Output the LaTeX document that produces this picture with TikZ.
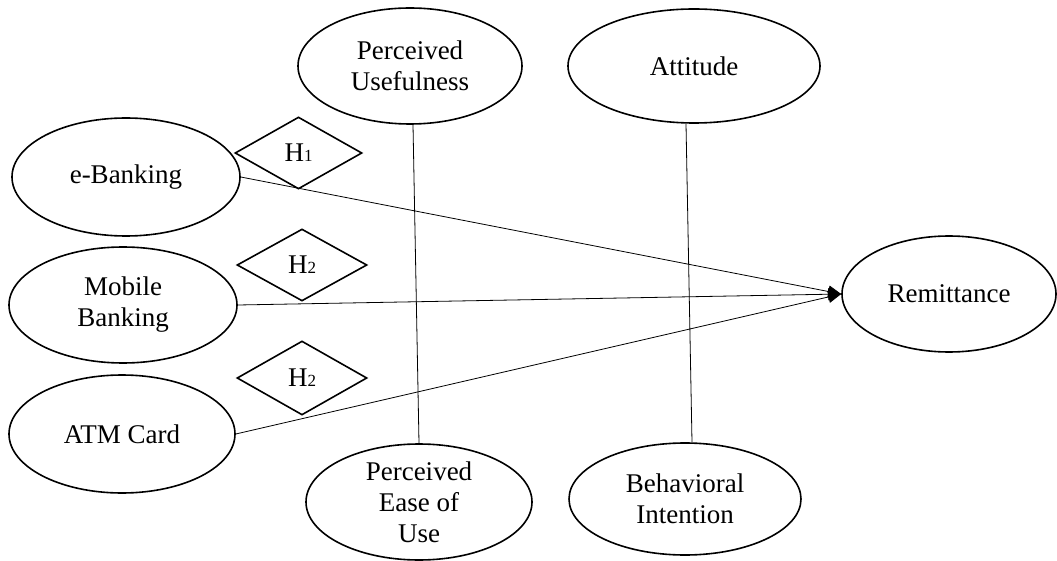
\documentclass[tikz,border=0pt]{standalone}
\usepackage{fontspec}
\setmainfont{Liberation Serif}
\usetikzlibrary{shapes.geometric,arrows.meta}
\begin{document}
\begin{tikzpicture}[x=1pt,y=-1pt,
  txt/.style={align=center,font=\fontsize{27}{31}\selectfont,inner sep=0pt},
  oval/.style={ellipse,draw,line width=1.6pt,inner sep=0pt},
  hyp/.style={diamond,draw,line width=1.6pt,inner sep=0pt,font=\fontsize{27}{31}\selectfont},
  conn/.style={line width=0.8pt},
  arr/.style={conn,-{Triangle[length=13pt,width=12pt]}}]
\useasboundingbox (0,0) rectangle (1057,561);
% ellipses
\node[oval,minimum width=224pt,minimum height=116pt,label={[txt]center:{Perceived\\Usefulness}}] (pu) at (410,66) {};
\node[oval,minimum width=252pt,minimum height=114pt,label={[txt]center:{Attitude}}] (att) at (694,66) {};
\node[oval,minimum width=228pt,minimum height=118pt,label={[txt]center:{e-Banking}}] (eb) at (126,177) {};
\node[oval,minimum width=228pt,minimum height=116pt,label={[txt]center:{Mobile\\Banking}}] (mb) at (123,305) {};
\node[oval,minimum width=226pt,minimum height=118pt,label={[txt]center:{ATM Card}}] (atm) at (122,434) {};
\node[oval,minimum width=226pt,minimum height=116pt,label={[txt]center:{Perceived\\Ease of\\Use}}] (peou) at (419,502) {};
\node[oval,minimum width=232pt,minimum height=112pt,label={[txt]center:{Behavioral\\Intention}}] (bi) at (685,499) {};
\node[oval,minimum width=214pt,minimum height=116pt,label={[txt]center:{Remittance}}] (rem) at (949,294) {};
% diamonds
\node[hyp,minimum width=127pt,minimum height=72pt] (h1) at (298.5,153) {H{\fontsize{17}{17}\selectfont 1}};
\node[hyp,minimum width=130pt,minimum height=72pt] (h2a) at (302,265) {H{\fontsize{17}{17}\selectfont 2}};
\node[hyp,minimum width=130pt,minimum height=74pt] (h2b) at (302,378) {H{\fontsize{17}{17}\selectfont 2}};
% connectors
\draw[conn] ([xshift=3pt]pu.south) -- (peou.north);
\draw[conn] ([xshift=-8pt]att.south) -- ([xshift=7pt]bi.north);
\draw[arr] (eb.east) -- (rem.west);
\draw[arr] (mb.east) -- (rem.west);
\draw[arr] (atm.east) -- (rem.west);
\end{tikzpicture}
\end{document}
